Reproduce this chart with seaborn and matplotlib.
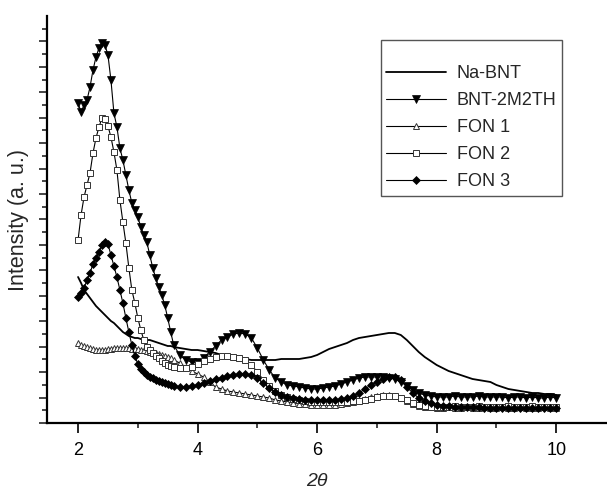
import numpy as np
import pandas as pd
import matplotlib
matplotlib.use("Agg")
import matplotlib.pyplot as plt
import seaborn as sns
from matplotlib.ticker import FixedLocator

# 2-theta positions (finer step over the low angle peaks)
theta = [2.00, 2.05, 2.10, 2.15, 2.20, 2.25, 2.30, 2.35, 2.40, 2.45, 2.50, 2.55, 2.60,
         2.65, 2.70, 2.75, 2.80, 2.85, 2.90, 2.95, 3.00, 3.05, 3.10, 3.15, 3.20, 3.25,
         3.30, 3.35, 3.40, 3.45, 3.50, 3.55, 3.60,
         3.7, 3.8, 3.9, 4.0, 4.1, 4.2, 4.3, 4.4, 4.5, 4.6, 4.7, 4.8, 4.9, 5.0,
         5.1, 5.2, 5.3, 5.4, 5.5, 5.6, 5.7, 5.8, 5.9, 6.0,
         6.1, 6.2, 6.3, 6.4, 6.5, 6.6, 6.7, 6.8, 6.9, 7.0,
         7.1, 7.2, 7.3, 7.4, 7.5, 7.6, 7.7, 7.8, 7.9, 8.0,
         8.1, 8.2, 8.3, 8.4, 8.5, 8.6, 8.7, 8.8, 8.9, 9.0,
         9.1, 9.2, 9.3, 9.4, 9.5, 9.6, 9.7, 9.8, 9.9, 10.0]

# intensities (a.u.)
na_bnt = [146, 140, 133, 129, 125, 121, 117, 114, 111, 108, 105, 102, 100, 97, 94, 91, 89,
          87, 86, 85, 85, 84, 84, 83, 83, 82, 81, 80, 79, 78, 77, 77, 76,
          75, 74, 73, 73, 72, 71, 70, 68, 67, 66, 65, 64, 63, 63,
          63, 63, 63, 64, 64, 64, 64, 65, 66, 68,
          71, 74, 76, 78, 80, 83, 85, 86, 87, 88,
          89, 90, 90, 88, 83, 77, 71, 66, 62, 58,
          55, 52, 50, 48, 46, 44, 43, 42, 41, 38,
          36, 34, 33, 32, 31, 30, 30, 29, 29, 28]

bnt_2m2th = [320, 311, 318, 323, 336, 353, 366, 375, 380, 378, 368, 343, 310, 296, 275, 263,
             248, 233, 220, 213, 206, 196, 188, 181, 168, 155, 145, 136, 128, 118, 105, 91, 78,
             68, 63, 61, 61, 65, 71, 77, 83, 86, 89, 90, 89, 85, 75,
             63, 53, 45, 41, 38, 37, 36, 35, 34, 34,
             35, 36, 37, 39, 41, 43, 45, 46, 46, 46,
             46, 45, 44, 41, 37, 33, 30, 28, 27, 26,
             26, 26, 27, 26, 26, 26, 27, 26, 26, 26,
             26, 25, 26, 26, 25, 26, 25, 25, 26, 25]

fon1 = [80, 78, 77, 76, 75, 74, 73, 73, 73, 73, 74, 74, 75, 75, 75, 75, 75, 75, 74, 74, 74,
        73, 73, 72, 71, 71, 70, 69, 68, 67, 66, 65, 63,
        60, 56, 52, 49, 46, 41, 36, 34, 32, 31, 30, 29, 28, 27,
        26, 25, 23, 22, 21, 20, 19, 19, 18, 18,
        18, 18, 18, 19, 20, 21, 23, 24, 26, 27,
        28, 28, 27, 25, 22, 19, 17, 16, 16, 15,
        15, 16, 15, 15, 16, 15, 15, 16, 15, 15,
        16, 15, 15, 16, 15, 15, 15, 16, 15, 15]

fon2 = [183, 208, 226, 238, 250, 270, 285, 296, 305, 304, 297, 286, 271, 253, 223, 201,
        180, 155, 133, 120, 105, 93, 83, 76, 73, 70, 67, 65, 62, 60, 58, 57, 56,
        55, 55, 56, 59, 62, 64, 66, 67, 67, 66, 65, 63, 58, 51,
        43, 37, 32, 28, 26, 24, 23, 22, 21, 21,
        21, 21, 21, 21, 21, 22, 22, 23, 24, 26,
        27, 27, 27, 25, 23, 20, 18, 17, 16, 16,
        16, 16, 17, 16, 16, 16, 17, 16, 16, 16,
        16, 17, 16, 16, 16, 17, 16, 16, 16, 16]

fon3 = [126, 130, 135, 143, 150, 159, 165, 171, 178, 181, 179, 168, 157, 146, 133, 120,
        105, 91, 78, 67, 59, 54, 51, 48, 46, 45, 43, 42, 41, 40, 39, 38, 37,
        36, 36, 37, 38, 40, 42, 44, 45, 47, 48, 49, 49, 48, 45,
        40, 35, 31, 28, 26, 25, 24, 23, 23, 23,
        23, 23, 23, 24, 25, 27, 30, 34, 38, 41,
        44, 46, 46, 43, 36, 30, 25, 22, 20, 18,
        17, 17, 16, 16, 16, 16, 16, 15, 15, 15,
        15, 15, 15, 15, 15, 15, 15, 15, 15, 15]

df = pd.DataFrame({"theta": theta, "Na-BNT": na_bnt, "BNT-2M2TH": bnt_2m2th,
                   "FON 1": fon1, "FON 2": fon2, "FON 3": fon3})

sns.set_style("ticks")
plt.rcParams['font.family'] = ['Liberation Sans', 'DejaVu Sans']

fig = plt.figure(figsize=(6.07, 4.91), dpi=100)
ax = fig.add_axes([0.0774, 0.1385, 0.9226, 0.8289])

# line styles per sample
sns.lineplot(data=df, x="theta", y="Na-BNT", ax=ax, color="black", lw=1.3, label="Na-BNT")
sns.lineplot(data=df, x="theta", y="BNT-2M2TH", ax=ax, color="black", lw=0.8, marker="v",
             markersize=5.5, markerfacecolor="black", markeredgecolor="black",
             markeredgewidth=0.5, label="BNT-2M2TH")
sns.lineplot(data=df, x="theta", y="FON 1", ax=ax, color="black", lw=0.8, marker="^",
             markersize=4.5, markerfacecolor="white", markeredgecolor="#333333",
             markeredgewidth=0.7, label="FON 1")
sns.lineplot(data=df, x="theta", y="FON 2", ax=ax, color="black", lw=0.8, marker="s",
             markersize=3.8, markerfacecolor="white", markeredgecolor="#333333",
             markeredgewidth=0.7, label="FON 2")
sns.lineplot(data=df, x="theta", y="FON 3", ax=ax, color="black", lw=0.8, marker="D",
             markersize=4.2, markerfacecolor="black", markeredgecolor="black",
             markeredgewidth=0.5, label="FON 3")

ax.set_xlim(1.48, 10.85)
ax.set_ylim(0, 407)

ax.set_xticks([2, 4, 6, 8, 10])
ax.xaxis.set_minor_locator(FixedLocator([3, 5, 7, 9]))
ystep = 12.72
ax.yaxis.set_major_locator(FixedLocator([ystep * k for k in range(0, 33, 2)]))
ax.yaxis.set_minor_locator(FixedLocator([ystep * k for k in range(1, 33, 2)]))
ax.set_yticklabels([])

ax.tick_params(axis="x", which="major", direction="out", length=7, width=1.2,
               labelsize=13, pad=7, colors="black")
ax.tick_params(axis="x", which="minor", direction="out", length=3.6, width=1.2)
ax.tick_params(axis="y", which="major", direction="out", length=5.8, width=1.2)
ax.tick_params(axis="y", which="minor", direction="out", length=3.8, width=1.2)

for side in ["top", "right"]:
    ax.spines[side].set_visible(False)
for side in ["left", "bottom"]:
    ax.spines[side].set_linewidth(1.6)
    ax.spines[side].set_color("black")

ax.set_ylabel("Intensity (a. u.)", fontsize=15.5, labelpad=4)
ax.set_xlabel("2θ", fontsize=14, fontstyle="italic")
ax.xaxis.set_label_coords(0.482, -0.122)

leg = ax.legend(loc="upper left", bbox_to_anchor=(0.596, 0.941), fontsize=13,
                title=" ", title_fontsize=8,
                frameon=True, fancybox=False, framealpha=1, edgecolor="#555555",
                handlelength=3.3, handletextpad=0.6, labelspacing=0.55,
                borderpad=0.3, borderaxespad=0)
leg.get_frame().set_linewidth(1.0)

plt.savefig("out.png", dpi=100)
